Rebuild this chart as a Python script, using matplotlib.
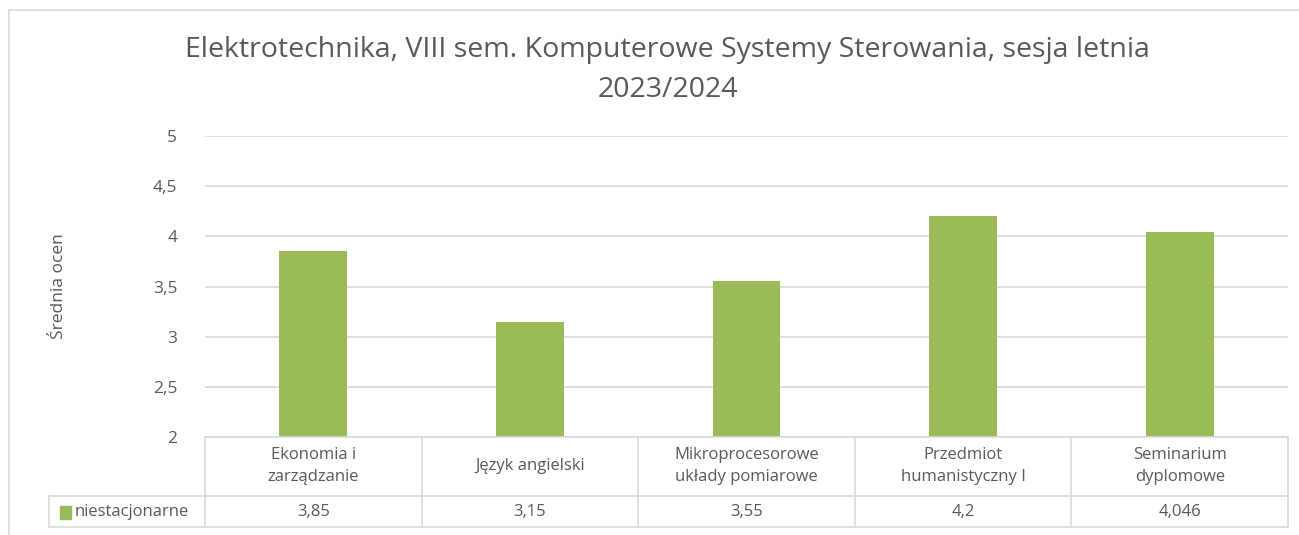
import matplotlib.pyplot as plt
from matplotlib.lines import Line2D
from matplotlib.patches import Rectangle

# data
categories = ["Ekonomia i\nzarządzanie", "Język angielski", "Mikroprocesorowe\nukłady pomiarowe",
              "Przedmiot\nhumanistyczny I", "Seminarium\ndyplomowe"]
values = [3.85, 3.15, 3.55, 4.2, 4.046]
value_labels = ["3,85", "3,15", "3,55", "4,2", "4,046"]
series_name = "niestacjonarne"
yticks = [2, 2.5, 3, 3.5, 4, 4.5, 5]
ytick_labels = ["2", "2,5", "3", "3,5", "4", "4,5", "5"]

W, H = 1299, 535
green = "#9BBB59"
grid = "#D9D9D9"
txt = "#595959"
plt.rcParams['font.family'] = ['Open Sans', 'DejaVu Sans']

fig = plt.figure(figsize=(W / 100, H / 100), dpi=100)

def px(x0, y0, x1, y1):
    # pixel box (top-left origin) -> figure fraction rect
    return [x0 / W, 1 - y1 / H, (x1 - x0) / W, (y1 - y0) / H]

# chart area border (top and left only visible)
fig.add_artist(Line2D([9 / W, 9 / W], [0, 1 - 10 / H], color="#D9D9D9", lw=1.2))
fig.add_artist(Line2D([9 / W, 1], [1 - 10 / H, 1 - 10 / H], color="#D9D9D9", lw=1.2))

ax = fig.add_axes(px(205, 136, 1288, 437))
x = list(range(len(categories)))
ax.bar(x, values, width=0.313, color=green, zorder=3)
ax.set_xlim(-0.5, len(categories) - 0.5)
ax.set_ylim(2, 5)
ax.set_yticks(yticks)
ax.set_yticklabels(ytick_labels, color=txt, fontsize=12.5)
ax.tick_params(axis='y', length=0, pad=20)
ax.set_xticks([])
ax.grid(axis='y', color=grid, lw=1.2, zorder=0)
for s in ax.spines.values():
    s.set_visible(False)
ax.set_ylabel("Średnia ocen", color=txt, fontsize=12.5, labelpad=62)

# data table below plot
tab = fig.add_axes(px(205, 437, 1288, 527), sharex=ax)
tab.set_ylim(0, 90)
tab.invert_yaxis()
tab.axis('off')
n = len(categories)
lc = dict(color=grid, lw=1.2, clip_on=False)
left = -0.5 - (205 - 49) / 217
tab.plot([-0.5, n - 0.5], [0, 0], **lc)
tab.plot([left, n - 0.5], [59, 59], **lc)
tab.plot([left, n - 0.5], [90, 90], **lc)
tab.plot([left, left], [59, 90], **lc)
for i in range(n + 1):
    tab.plot([i - 0.5, i - 0.5], [0, 90], **lc)
for i in range(n):
    tab.text(i, 29, categories[i], ha='center', va='center', color=txt,
             fontsize=12, linespacing=1.45, clip_on=False)
    tab.text(i, 75, value_labels[i], ha='center', va='center', color=txt,
             fontsize=12, clip_on=False)
tab.add_patch(Rectangle((left + 0.05, 69), 0.05, 13, color=green, clip_on=False))
tab.text(left + 0.115, 75, series_name, ha='left', va='center', color=txt,
         fontsize=12, clip_on=False)

fig.text(0.514, 1 - 70 / H,
         "Elektrotechnika, VIII sem. Komputerowe Systemy Sterowania, sesja letnia\n2023/2024",
         ha='center', va='center', color=txt, fontsize=20.5, linespacing=1.6)

fig.savefig("out.png", dpi=100)
